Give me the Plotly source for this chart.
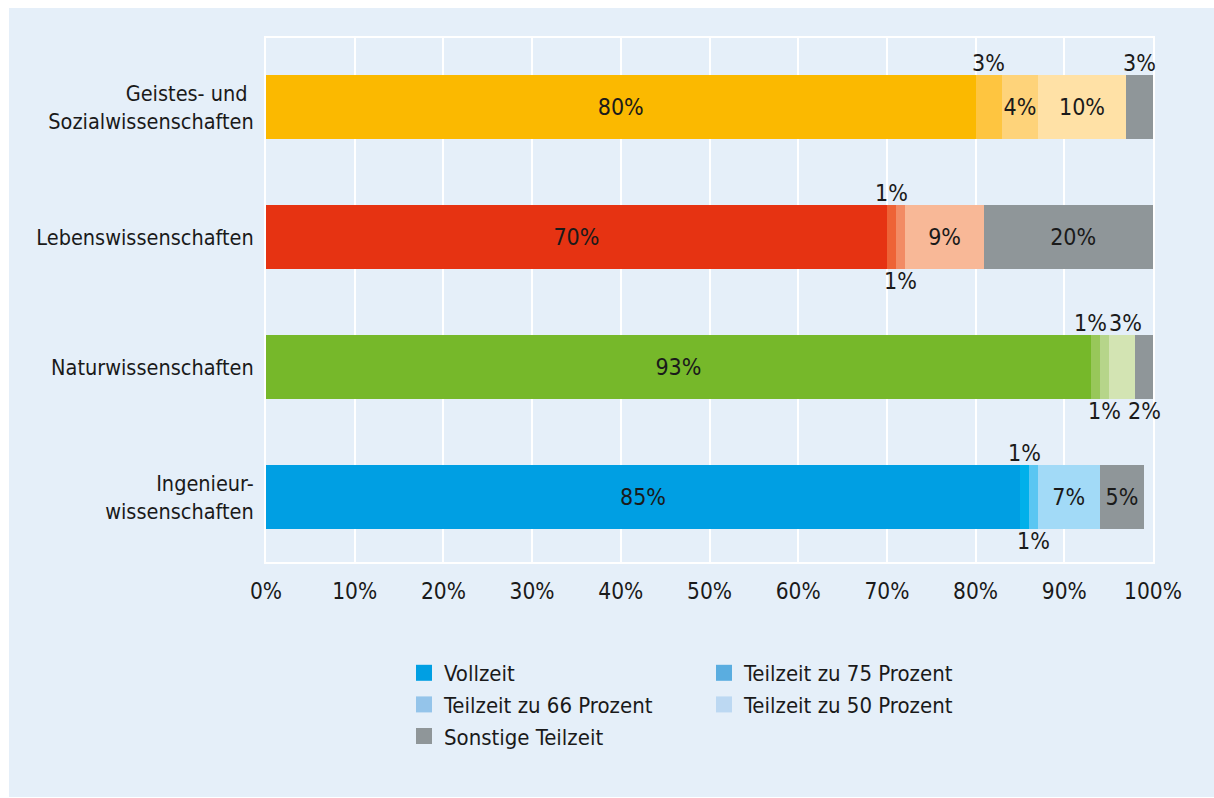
import plotly.graph_objects as go

# Fachgebiete, von unten nach oben
categories = [
    "Ingenieur-<br>wissenschaften",
    "Naturwissenschaften",
    "Lebenswissenschaften",
    "Geistes- und\u00a0<br>Sozialwissenschaften",
]

# Anteile in Prozent je Beschäftigungsumfang
vollzeit = [85, 93, 70, 80]
teilzeit_75 = [1, 1, 1, 3]
teilzeit_66 = [1, 1, 1, 4]
teilzeit_50 = [7, 3, 9, 10]
sonstige = [5, 2, 20, 3]

x_ticks = [0, 10, 20, 30, 40, 50, 60, 70, 80, 90, 100]
x_tick_labels = ["0%", "10%", "20%", "30%", "40%", "50%", "60%", "70%", "80%", "90%", "100%"]

series_names = [
    "Vollzeit",
    "Teilzeit zu 75 Prozent",
    "Teilzeit zu 66 Prozent",
    "Teilzeit zu 50 Prozent",
    "Sonstige Teilzeit",
]
series_values = [vollzeit, teilzeit_75, teilzeit_66, teilzeit_50, sonstige]

# Farbabstufungen je Fachgebiet (Ingenieur, Natur, Leben, Geistes)
series_colors = [
    ["#009fe3", "#76b82a", "#e63312", "#fbb900"],
    ["#00b0ea", "#98c75a", "#ee6336", "#fec540"],
    ["#5ac6f2", "#b6d58a", "#f28b64", "#fed37a"],
    ["#a2daf7", "#d3e4b3", "#f8b897", "#ffe1a6"],
    ["#8f9699", "#8f9699", "#8f9699", "#8f9699"],
]
legend_colors = ["#009fe3", "#5aade0", "#94c4ea", "#bcd8f2", "#8f9699"]

# Lage der Wertbeschriftung je Segment: innen, ober- oder unterhalb des Balkens
label_side = [
    ["inside", "inside", "inside", "inside"],
    ["above", "above", "above", "above"],
    ["below", "below", "below", "inside"],
    ["inside", "above", "inside", "inside"],
    ["inside", "below", "inside", "above"],
]
# seitlicher Versatz (px) eng beieinander liegender Beschriftungen
label_nudge = [
    [0, 0, 0, 0],
    [0, -5, 0, 0],
    [0, 0, 0, 0],
    [0, 4, 0, 0],
    [0, 0, 0, 0],
]

W, H = 1214, 798
ML, MR, MT, MB = 266, 61, 38, 236
PW, PH = W - ML - MR, H - MT - MB
BAR_W = 0.493
FONT = "DejaVu Sans Condensed, sans-serif"
TXT = "#1a1a1a"
BG = "#e5eff9"
LABEL_SIZE = 23

fig = go.Figure()
annotations = []
base = [0] * len(categories)
for name, vals, cols, sides, nudges in zip(series_names, series_values, series_colors,
                                           label_side, label_nudge):
    texts = [f"{v}%" if s == "inside" else "" for v, s in zip(vals, sides)]
    fig.add_trace(go.Bar(
        y=categories, x=vals, base=base, orientation="h", width=BAR_W,
        marker=dict(color=cols, line=dict(width=0)),
        text=texts, textposition="inside", insidetextanchor="middle",
        textangle=0, constraintext="none",
        insidetextfont=dict(family=FONT, size=LABEL_SIZE, color=TXT),
        showlegend=False, hoverinfo="skip",
    ))
    for i, (v, s, dx) in enumerate(zip(vals, sides, nudges)):
        if s == "inside":
            continue
        above = s == "above"
        annotations.append(dict(
            x=base[i] + v / 2, y=i + (BAR_W / 2 if above else -BAR_W / 2),
            xref="x", yref="y", text=f"{v}%", showarrow=False,
            yanchor="bottom" if above else "top",
            yshift=-3 if above else 3, xshift=dx,
            font=dict(family=FONT, size=LABEL_SIZE, color=TXT),
        ))
    base = [b + v for b, v in zip(base, vals)]

# Legendeneinträge
for name, col in zip(series_names, legend_colors):
    fig.add_trace(go.Scatter(
        x=[None], y=[None], mode="markers", name=name,
        marker=dict(symbol="square", size=16, color=col),
    ))


def px_x(p):
    return (p - ML) / PW


def px_y(p):
    return (H - MB - p) / PH


fig.update_layout(
    width=W, height=H,
    margin=dict(l=ML, r=MR, t=MT, b=MB, autoexpand=False),
    barmode="stack",
    paper_bgcolor="white",
    plot_bgcolor=BG,
    font=dict(family=FONT, size=22, color=TXT),
    annotations=annotations,
    shapes=[dict(
        type="rect", xref="paper", yref="paper", layer="below",
        x0=px_x(9), x1=px_x(W), y0=px_y(797), y1=px_y(8),
        fillcolor=BG, line=dict(width=0),
    )],
    xaxis=dict(
        range=[0, 100], tickmode="array", tickvals=x_ticks, ticktext=x_tick_labels,
        showgrid=True, gridcolor="white", gridwidth=2,
        showline=True, linecolor="white", linewidth=2, mirror=True,
        zeroline=False, ticks="", ticklabelstandoff=8, automargin=False,
        tickfont=dict(family=FONT, size=22.5, color=TXT),
        layer="below traces", fixedrange=True,
    ),
    yaxis=dict(
        type="category", range=[-0.5, 3.532],
        showgrid=False, showline=True, linecolor="white", linewidth=2,
        mirror=True, zeroline=False, ticks="", ticklabelstandoff=6, automargin=False,
        tickfont=dict(family=FONT, size=21.5, color=TXT),
        layer="below traces", fixedrange=True,
    ),
    legend=dict(
        orientation="h", x=px_x(404), y=px_y(652), xanchor="left", yanchor="top",
        traceorder="normal",
        entrywidth=255, entrywidthmode="pixels",
        font=dict(family=FONT, size=22, color=TXT),
        bgcolor="rgba(0,0,0,0)", itemclick=False, itemdoubleclick=False,
    ),
)

fig.write_html("out.html")
